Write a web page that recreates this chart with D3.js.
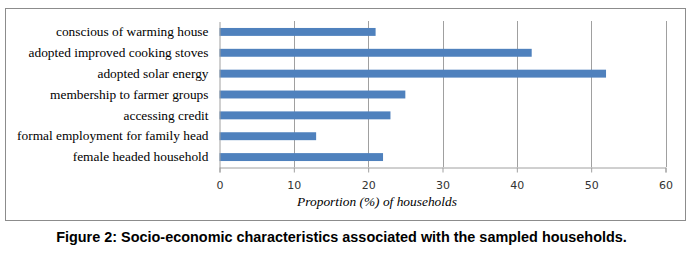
<!DOCTYPE html>
<html><head><meta charset="utf-8">
<script src="https://cdn.jsdelivr.net/npm/d3@7"></script>
<style>body{margin:0;background:#fff}svg{display:block}</style>
</head><body><svg id="c" width="696" height="255"></svg>
<script>
const categories = ["conscious of warming house","adopted improved cooking stoves","adopted solar energy","membership to farmer groups","accessing credit","formal employment for family head","female headed household"];
const values = [21, 42, 52, 25, 23, 13, 22];
const xTicks = [0, 10, 20, 30, 40, 50, 60];
const xTitle = "Proportion (%) of households";
const caption = "Figure 2: Socio-economic characteristics associated with the sampled households.";

const svg = d3.select("#c");
svg.append("rect").attr("x",5.5).attr("y",8.5).attr("width",680).attr("height",212)
  .attr("fill","#fff").attr("stroke","#8c8c8c").attr("stroke-width",1);

const x = d3.scaleLinear().domain([0,60]).range([219.5,665.5]);
const y = d3.scaleBand().domain(categories).range([21.5,167.5]).paddingInner(0.62).paddingOuter(0.31);

const g = svg.append("g");
g.selectAll("line.grid").data(xTicks.slice(1)).join("line").attr("class","grid")
  .attr("x1",d=>Math.round(x(d))+0.5).attr("x2",d=>Math.round(x(d))+0.5)
  .attr("y1",21).attr("y2",167).attr("stroke","#a0a0a0").attr("stroke-width",1);

g.selectAll("rect.bar").data(values).join("rect").attr("class","bar")
  .attr("x",x(0)).attr("y",(d,i)=>y(categories[i]))
  .attr("width",d=>x(d)-x(0)).attr("height",y.bandwidth())
  .attr("fill","#4f81bd");

const xAxis = d3.axisBottom(x).tickValues(xTicks).tickSize(5).tickFormat(d3.format("d"));
const ax = g.append("g").attr("transform","translate(0,167.5)").call(xAxis);
ax.select(".domain").attr("stroke","#a0a0a0");
ax.selectAll(".tick line").attr("stroke","#a0a0a0");
ax.selectAll(".tick text").attr("fill","#333").attr("font-family","'DejaVu Sans', sans-serif")
  .attr("font-size","11px").attr("dy","0").attr("y",21);

const yAxis = d3.axisLeft(y).tickSize(0).tickPadding(11);
const ay = g.append("g").attr("transform","translate(219.5,0)").call(yAxis);
ay.select(".domain").attr("stroke","#a0a0a0");
ay.selectAll(".tick text").attr("fill","#000").attr("font-family","'Liberation Serif', serif")
  .attr("font-size","13px");

// fit font sizes to reference text widths
function fit(sel, target){
  const s = parseFloat(sel.attr("font-size"));
  const w = sel.node().getComputedTextLength();
  return s * target / w;
}
const refLab = ay.selectAll(".tick text").filter(d=>d==="adopted improved cooking stoves");
const labSize = fit(refLab, 180);
ay.selectAll(".tick text").attr("font-size", labSize+"px");

const t = svg.append("text").attr("x",377).attr("y",206).attr("text-anchor","middle")
  .attr("font-family","'Liberation Serif', serif").attr("font-style","italic").attr("font-size","13px")
  .attr("fill","#000").text(xTitle);
t.attr("font-size", fit(t,160)+"px");

const c = svg.append("text").attr("x",341.5).attr("y",242).attr("text-anchor","middle")
  .attr("font-family","'Liberation Sans', Arial, sans-serif").attr("font-weight","bold").attr("font-size","13px")
  .attr("fill","#000").text(caption);
c.attr("font-size", fit(c,571)+"px");
</script></body></html>
